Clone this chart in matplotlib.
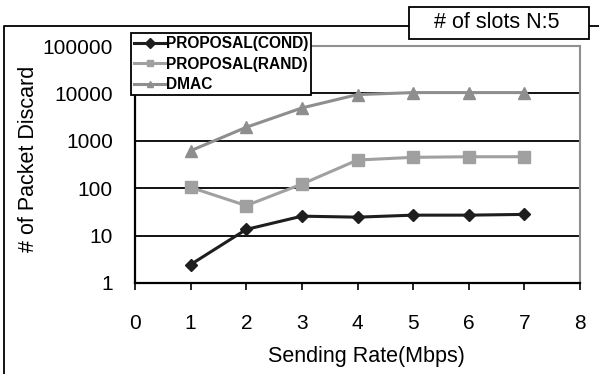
import matplotlib
matplotlib.use("Agg")
import matplotlib.pyplot as plt
from matplotlib.lines import Line2D
from matplotlib.patches import Rectangle
from matplotlib.ticker import FixedLocator, FixedFormatter, NullLocator

rate = [1, 2, 3, 4, 5, 6, 7]
cond = [2.45, 13.5, 25.7, 24.5, 27, 27, 28]
rand = [104, 43, 122, 393, 448, 461, 461]
dmac = [617, 1930, 4930, 9440, 10400, 10400, 10400]

xticks = [0, 1, 2, 3, 4, 5, 6, 7, 8]
yticks = [1, 10, 100, 1000, 10000, 100000]
ylabels = ["1", "10", "100", "1000", "10000", "100000"]

plt.rcParams['font.family'] = ['Liberation Sans', 'DejaVu Sans']

W, H = 599, 374
fig = plt.figure(figsize=(W / 100, H / 100), dpi=100)

ax = fig.add_axes([135 / W, 1 - 283 / H, (580 - 135) / W, (283 - 46) / H])

ax.plot(rate, cond, color='#1e1e1e', lw=2.2, marker='D', ms=6.5, label='PROPOSAL(COND)')
ax.plot(rate, rand, color='#a0a0a0', lw=2.2, marker='s', ms=8, label='PROPOSAL(RAND)')
ax.plot(rate, dmac, color='#8e8e8e', lw=2.2, marker='^', ms=8, label='DMAC')

ax.set_yscale('log')
ax.set_ylim(1, 100000)
ax.set_xlim(0, 8)
ax.yaxis.set_major_locator(FixedLocator(yticks))
ax.yaxis.set_major_formatter(FixedFormatter(ylabels))
ax.yaxis.set_minor_locator(NullLocator())
ax.set_xticks(xticks)
ax.tick_params(axis='y', length=0, labelsize=15, pad=16)
ax.tick_params(axis='x', direction='out', length=5, width=1.2, labelsize=15, pad=17)
ax.grid(axis='y', color='black', lw=1.3)
ax.set_axisbelow(True)

for s in ['left', 'bottom']:
    ax.spines[s].set_color('black')
    ax.spines[s].set_linewidth(1.6)
for s in ['top', 'right']:
    ax.spines[s].set_color('#909090')
    ax.spines[s].set_linewidth(1.5)

ax.set_xlabel('Sending Rate(Mbps)', fontsize=15.5)
ax.xaxis.set_label_coords(0.52, -0.266)
ax.set_ylabel('# of Packet Discard', fontsize=15.5, va='center')
ax.yaxis.set_label_coords(-0.24, 0.525)

leg = ax.legend(loc='upper left', bbox_to_anchor=(131 / W, 1 - 33 / H),
                bbox_transform=fig.transFigure, fancybox=False,
                edgecolor='black', framealpha=1, handlelength=2.0,
                handletextpad=0.05, borderpad=0.2, labelspacing=0.35,
                borderaxespad=0, prop={'weight': 'bold', 'size': 11.2})
leg.get_frame().set_linewidth(1.3)
for h in leg.legend_handles:
    h.set_markersize(5)

# outer frame and the slots box
fig.add_artist(Line2D([3.5 / W, 3.5 / W, 1], [0, 1 - 26 / H, 1 - 26 / H],
                      color='black', lw=1.3, transform=fig.transFigure, zorder=4))
fig.add_artist(Rectangle((409 / W, 1 - 39 / H), 180 / W, 32 / H, fc='white',
                         ec='black', lw=1.3, transform=fig.transFigure, zorder=5))
fig.text(497 / W, 1 - 23 / H, '# of slots N:5', fontsize=15.5, ha='center',
         va='center', zorder=6)

fig.savefig('out.png', dpi=100)
